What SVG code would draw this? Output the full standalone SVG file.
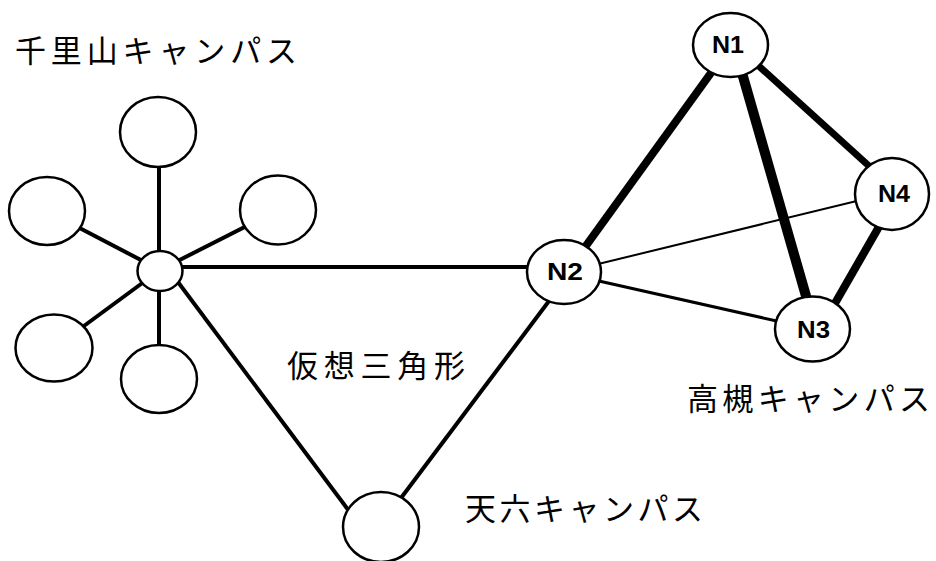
<svg xmlns="http://www.w3.org/2000/svg" width="936" height="561" viewBox="0 0 936 561">
<style>
.node{fill:#fff;stroke:#000;stroke-width:2.5}
.ln{stroke:#000;stroke-linecap:butt;fill:none}
.jp{font-family:"Noto Sans CJK JP",sans-serif;font-size:31px;fill:#000}
.nl{font-family:"Liberation Sans",Arial,sans-serif;font-size:23px;font-weight:bold;fill:#000;text-anchor:middle}
</style>
<rect width="936" height="561" fill="#fff"/>
<g id="connectors">
  <line class="ln" stroke-width="4" x1="159" y1="270" x2="159" y2="132"/>
  <line class="ln" stroke-width="4" x1="160" y1="270" x2="47" y2="211"/>
  <line class="ln" stroke-width="4" x1="160" y1="270" x2="278" y2="210"/>
  <line class="ln" stroke-width="4" x1="160" y1="270" x2="54" y2="348"/>
  <line class="ln" stroke-width="4" x1="159" y1="270" x2="159" y2="379"/>
  <line class="ln" stroke-width="4" x1="175" y1="267" x2="540" y2="267"/>
  <line class="ln" stroke-width="4" x1="169" y1="270" x2="355" y2="519"/>
  <line class="ln" stroke-width="4" x1="552" y1="297" x2="395" y2="506"/>
  <line class="ln" stroke-width="8" x1="716" y1="66" x2="580" y2="254"/>
  <line class="ln" stroke-width="10" x1="740" y1="66" x2="810" y2="310"/>
  <line class="ln" stroke-width="7" x1="750" y1="58" x2="880" y2="176"/>
  <line class="ln" stroke-width="8" x1="884" y1="218" x2="830" y2="312"/>
  <line class="ln" stroke-width="2" x1="590" y1="266" x2="865" y2="199"/>
  <line class="ln" stroke-width="3" x1="590" y1="279" x2="790" y2="324"/>
</g>
<g id="hub"><ellipse class="node" cx="160" cy="271" rx="22.5" ry="20"/></g>
<g id="sat-top"><ellipse class="node" cx="158" cy="132" rx="38" ry="35"/></g>
<g id="sat-left-upper"><ellipse class="node" cx="47" cy="211" rx="38" ry="34"/></g>
<g id="sat-right-upper"><ellipse class="node" cx="278" cy="210" rx="38" ry="34.5"/></g>
<g id="sat-left-lower"><ellipse class="node" cx="54" cy="348" rx="38.5" ry="33.5"/></g>
<g id="sat-bottom"><ellipse class="node" cx="159" cy="379" rx="38" ry="34"/></g>
<g id="tenroku"><ellipse class="node" cx="381" cy="527" rx="38" ry="35"/></g>
<g id="N1"><ellipse class="node" cx="730.5" cy="45" rx="37.5" ry="32"/><text class="nl" x="728" y="53" textLength="32" lengthAdjust="spacingAndGlyphs">N1</text></g>
<g id="N2"><ellipse class="node" cx="564" cy="272" rx="37" ry="32"/><text class="nl" x="565" y="280" textLength="36" lengthAdjust="spacingAndGlyphs">N2</text></g>
<g id="N3"><ellipse class="node" cx="812.5" cy="329" rx="37.5" ry="32.5"/><text class="nl" x="813.5" y="338" textLength="33" lengthAdjust="spacingAndGlyphs">N3</text></g>
<g id="N4"><ellipse class="node" cx="892" cy="194" rx="37" ry="36"/><text class="nl" x="894" y="201.5" textLength="32" lengthAdjust="spacingAndGlyphs">N4</text></g>
<g id="labels">
  <text class="jp" x="15" y="61.5" font-size="33" textLength="282" lengthAdjust="spacing">千里山キャンパス</text>
  <text class="jp" x="287" y="377" font-size="28" textLength="178" lengthAdjust="spacing">仮想三角形</text>
  <text class="jp" x="687" y="410" font-size="31" textLength="243" lengthAdjust="spacing">高槻キャンパス</text>
  <text class="jp" x="465" y="520" font-size="33" textLength="238" lengthAdjust="spacing">天六キャンパス</text>
</g>
</svg>
